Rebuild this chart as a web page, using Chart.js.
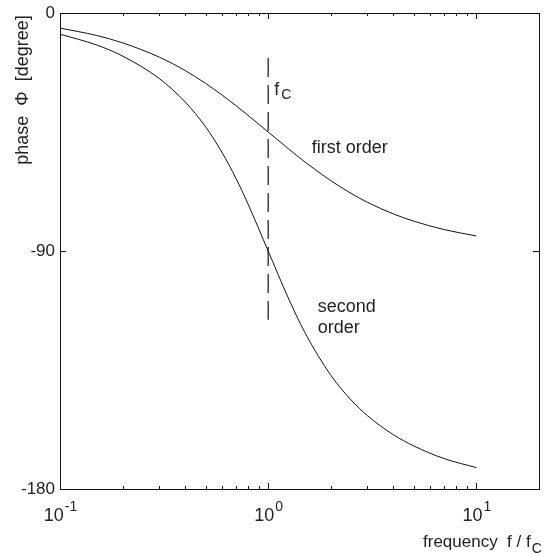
<!DOCTYPE html>
<html>
<head>
<meta charset="utf-8">
<script src="https://cdn.jsdelivr.net/npm/chart.js@4/dist/chart.umd.min.js"></script>
<style>
    html, body { margin: 0; padding: 0; background: #fff; }
    #wrap { width: 552px; height: 557px; }
</style>
</head>
<body>
<div id="wrap"><canvas id="phaseChart"></canvas></div>
<script>
// normalized frequency f / fc
const freqs = [0.1, 0.15, 0.2, 0.3, 0.4, 0.5, 0.6, 0.7, 0.8, 1, 1.25, 1.5, 2, 2.5, 3, 4, 5, 7, 10];
// phase in degrees
const firstOrder = [-5.7, -8.5, -11.3, -16.7, -21.8, -26.6, -31.0, -35.0, -38.7, -45.0, -51.3, -56.3, -63.4, -68.2, -71.6, -76.0, -78.7, -81.9, -84.3];
const secondOrder = [-8.0, -12.1, -16.3, -24.8, -33.7, -43.0, -52.7, -62.5, -72.2, -90.0, -107.8, -120.8, -137.0, -146.3, -152.3, -159.5, -163.7, -168.5, -171.9];
// cutoff marker
const cutoffX = [1, 1];
const cutoffY = [-17, -116];

const yTicks = [0, -90, -180];
const xMajor = [0.1, 1, 10];
const xExponents = ['-1', '0', '1'];
const xMinor = [0.2, 0.3, 0.4, 0.5, 0.6, 0.7, 0.8, 0.9, 2, 3, 4, 5, 6, 7, 8, 9];

const FONT = '"Liberation Sans", Arial, sans-serif';
const INK = '#111';
const TEXT = '#222';

function toPoints(xs, ys) {
    return xs.map((x, i) => ({ x: x, y: ys[i] }));
}

// frame, inward ticks and all the text
const axesPlugin = {
    id: 'axesPlugin',
    afterDraw(chart) {
        const ctx = chart.ctx;
        const xs = chart.scales.x;
        const ys = chart.scales.y;
        const a = chart.chartArea;

        ctx.save();
        ctx.strokeStyle = INK;
        ctx.lineWidth = 1;
        ctx.strokeRect(Math.round(a.left) + 0.5, Math.round(a.top) + 0.5,
            Math.round(a.right - a.left), Math.round(a.bottom - a.top));

        ctx.beginPath();
        xMajor.forEach(v => {
            const px = Math.round(xs.getPixelForValue(v)) + 0.5;
            ctx.moveTo(px, a.bottom); ctx.lineTo(px, a.bottom - 6);
            ctx.moveTo(px, a.top); ctx.lineTo(px, a.top + 6);
        });
        xMinor.forEach(v => {
            const px = Math.round(xs.getPixelForValue(v)) + 0.5;
            ctx.moveTo(px, a.bottom); ctx.lineTo(px, a.bottom - 3);
            ctx.moveTo(px, a.top); ctx.lineTo(px, a.top + 3);
        });
        yTicks.forEach(v => {
            const py = Math.round(ys.getPixelForValue(v)) + 0.5;
            ctx.moveTo(a.left, py); ctx.lineTo(a.left + 6, py);
            ctx.moveTo(a.right, py); ctx.lineTo(a.right - 6, py);
        });
        ctx.stroke();

        ctx.fillStyle = TEXT;
        ctx.textBaseline = 'middle';
        ctx.textAlign = 'right';
        ctx.font = '17px ' + FONT;
        yTicks.forEach(v => {
            ctx.fillText(String(v), a.left - 5, ys.getPixelForValue(v));
        });

        // 10^n labels, centred on the tick
        ctx.textBaseline = 'alphabetic';
        ctx.textAlign = 'left';
        xMajor.forEach((v, i) => {
            const px = xs.getPixelForValue(v);
            ctx.font = '18px ' + FONT;
            const wBase = ctx.measureText('10').width;
            ctx.font = '14px ' + FONT;
            const wExp = ctx.measureText(xExponents[i]).width;
            const x0 = px - (wBase + wExp) / 2;
            ctx.font = '18px ' + FONT;
            ctx.fillText('10', x0, a.bottom + 32);
            ctx.font = '14px ' + FONT;
            ctx.fillText(xExponents[i], x0 + wBase + 1, a.bottom + 22);
        });

        // x axis title
        ctx.font = '17px ' + FONT;
        ctx.fillText('frequency  f / f', 423, 547);
        const wt = ctx.measureText('frequency  f / f').width;
        ctx.font = '14px ' + FONT;
        ctx.fillText('C', 423 + wt + 1, 553);

        // y axis title
        ctx.save();
        ctx.translate(23, 90);
        ctx.rotate(-Math.PI / 2);
        ctx.textAlign = 'center';
        ctx.textBaseline = 'middle';
        ctx.font = '18px ' + FONT;
        ctx.fillText('phase  \u03A6  [degree]', 0, 0);
        ctx.restore();

        // curve annotations
        ctx.font = '18px ' + FONT;
        ctx.textBaseline = 'middle';
        const fx = xs.getPixelForValue(1.07);
        const fy = ys.getPixelForValue(-29);
        ctx.fillText('f', fx, fy);
        ctx.font = '14px ' + FONT;
        ctx.fillText('C', fx + 7, fy + 5);

        ctx.font = '18px ' + FONT;
        ctx.fillText('first order', xs.getPixelForValue(1.62), ys.getPixelForValue(-51));
        ctx.fillText('second', xs.getPixelForValue(1.73), ys.getPixelForValue(-111));
        ctx.fillText('order', xs.getPixelForValue(1.73), ys.getPixelForValue(-119));
        ctx.restore();
    }
};

new Chart(document.getElementById('phaseChart'), {
    type: 'scatter',
    data: {
        datasets: [
            {
                label: 'first order',
                data: toPoints(freqs, firstOrder),
                showLine: true,
                borderColor: INK,
                borderWidth: 1,
                pointRadius: 0,
                cubicInterpolationMode: 'monotone'
            },
            {
                label: 'second order',
                data: toPoints(freqs, secondOrder),
                showLine: true,
                borderColor: INK,
                borderWidth: 1,
                pointRadius: 0,
                cubicInterpolationMode: 'monotone'
            },
            {
                label: 'fc',
                data: toPoints(cutoffX, cutoffY),
                showLine: true,
                borderColor: INK,
                borderWidth: 1.2,
                borderDash: [19, 8],
                pointRadius: 0
            }
        ]
    },
    options: {
        responsive: true,
        maintainAspectRatio: false,
        animation: false,
        layout: {
            padding: { left: 60, top: 13, right: 13, bottom: 68 }
        },
        plugins: {
            legend: { display: false },
            tooltip: { enabled: false }
        },
        scales: {
            x: {
                type: 'logarithmic',
                min: 0.1,
                max: 20,
                display: false
            },
            y: {
                type: 'linear',
                min: -180,
                max: 0,
                display: false
            }
        }
    },
    plugins: [axesPlugin]
});
</script>
</body>
</html>
